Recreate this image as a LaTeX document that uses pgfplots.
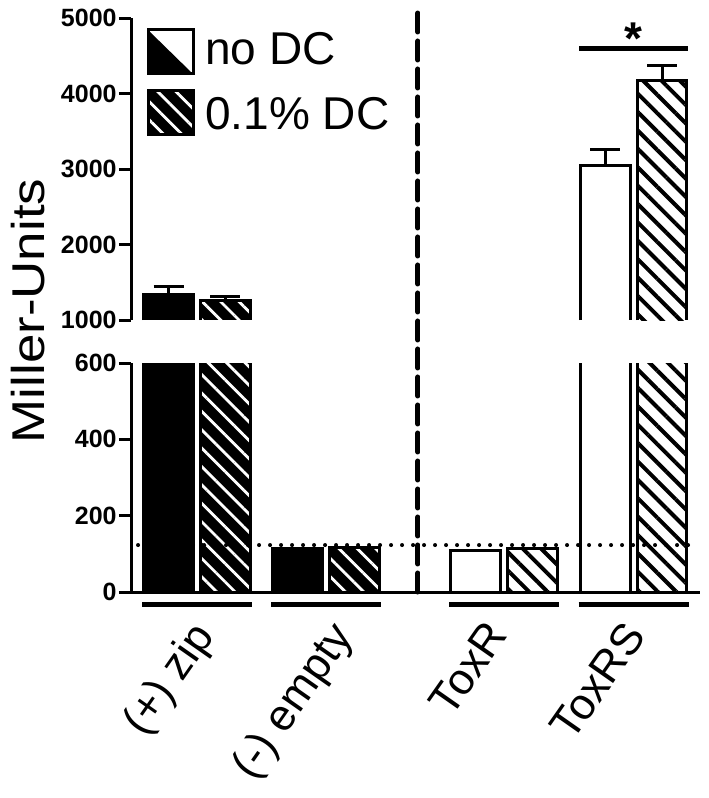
\documentclass[border=0pt]{standalone}
\usepackage{fontspec}
\setmainfont{Liberation Sans}
\newfontfamily\ylabfont[FakeStretch=1.15]{Liberation Sans}
\usepackage{pgfplots}
\pgfplotsset{compat=1.18}
\usetikzlibrary{patterns.meta,calc}

\tikzset{
  blk/.style={draw=black, fill=black, line width=1.5bp},
  wht/.style={draw=black, fill=white, line width=1.5bp},
  blkh/.style={preaction={fill=black}, pattern={Lines[angle=-45,distance=6.5bp,line width=1.4bp]}, pattern color=white, draw=black, line width=1.5bp},
  whth/.style={preaction={fill=white}, pattern={Lines[angle=-45,distance=6.5bp,line width=2bp]}, pattern color=black, draw=black, line width=1.5bp},
  blkF/.style={draw=none, fill=black},
  whtF/.style={draw=none, fill=white},
  blkhF/.style={draw=none, preaction={fill=black}, pattern={Lines[angle=-45,distance=6.5bp,line width=1.4bp]}, pattern color=white},
  whthF/.style={draw=none, preaction={fill=white}, pattern={Lines[angle=-45,distance=6.5bp,line width=2bp]}, pattern color=black},
  outl/.style={sharp plot, black, line width=1.5bp, line join=miter, mark=none},
}
\pgfplotsset{
  common/.style={
    scale only axis, width=284.5bp, xmin=0.4884, xmax=4.899,
    ybar, bar width=0.385,
    clip mode=individual,
    scaled y ticks=false,
    tick align=outside,
    major tick length=6bp,
    ytick style={line width=1.5bp, black},
    yticklabel style={font=\fontsize{12.5bp}{14bp}\selectfont\bfseries, inner sep=1bp},
    /pgf/number format/1000 sep={},
    /pgf/number format/assume math mode=true,
    error bars/error bar style={line width=1.5bp, black},
    error bars/error mark options={rotate=90, line width=1.5bp, black, mark size=7.5bp},
  },
}

\begin{document}
\begin{tikzpicture}
% ---------------- lower panel (0-600) ----------------
\begin{axis}[common, name=lower, height=114.5bp,
  ymin=0, ymax=600, ytick={0,200,400,600},
  axis x line*=bottom, axis y line*=left,
  axis line style={-, line width=1.5bp, black},
  xtick={1.015,2.093,3.302,4.37},
  xticklabels={(+) zip, (-) empty, ToxR, ToxRS},
  xtick style={draw=none},
  xticklabel style={xshift=-5bp, yshift=-7bp, rotate=55, anchor=north east, inner sep=0pt,
    font=\fontsize{22bp}{25bp}\selectfont},
]
\addplot[blk, bar shift=-0.22] coordinates {(1,1340) (2,115)};
\addplot[blkh, bar shift=0.22] coordinates {(1,1255) (2,117)};
\addplot[wht, bar shift=-0.22] coordinates {(3.38,108) (4.385,3040)};
\addplot[whth, bar shift=0.22] coordinates {(3.38,115) (4.385,4170)};
\addplot[sharp plot, black, line width=2bp, line cap=round, dash pattern=on 0bp off 5.5bp]
  coordinates {(0.543,123) (4.845,123)};
% group underlines
\draw[line width=2.5bp] (axis cs:0.574,-34) -- (axis cs:1.426,-34);
\draw[line width=2.5bp] (axis cs:1.574,-34) -- (axis cs:2.426,-34);
\draw[line width=2.5bp] (axis cs:2.954,-34) -- (axis cs:3.806,-34);
\draw[line width=2.5bp] (axis cs:3.959,-34) -- (axis cs:4.811,-34);
\coordinate (dl) at (axis cs:2.713,0);
\end{axis}

% ---------------- upper panel (1000-5000) ----------------
\begin{axis}[common, at={($(lower.north west)+(0,21.5bp)$)}, anchor=south west,
  height=151bp,
  ymin=1000, ymax=5000, ytick={1000,2000,3000,4000,5000},
  axis y line*=left, axis x line=none,
  axis line style={-, line width=1.5bp, black},
]
\addplot[blkF, bar shift=-0.22, error bars/.cd, y dir=plus, y explicit]
  coordinates {(1,1340) +- (0,110)};
\addplot[blkhF, bar shift=0.22, error bars/.cd, y dir=plus, y explicit]
  coordinates {(1,1255) +- (0,60)};
\addplot[whtF, bar shift=-0.22, error bars/.cd, y dir=plus, y explicit]
  coordinates {(4.385,3040) +- (0,220)};
\addplot[whthF, bar shift=0.22, error bars/.cd, y dir=plus, y explicit]
  coordinates {(4.385,4170) +- (0,205)};
% open-bottom outlines of the bars above the break
\addplot[outl] coordinates {(0.5875,1000) (0.5875,1340) (0.9725,1340) (0.9725,1000)};
\addplot[outl] coordinates {(1.0275,1000) (1.0275,1255) (1.4125,1255) (1.4125,1000)};
\addplot[outl] coordinates {(3.9725,1000) (3.9725,3040) (4.3575,3040) (4.3575,1000)};
\addplot[outl] coordinates {(4.4125,1000) (4.4125,4170) (4.7975,4170) (4.7975,1000)};
\draw[line width=2.5bp] (axis cs:3.961,4600) -- (axis cs:4.806,4600);
\node[anchor=north, inner sep=0pt, font=\fontsize{23bp}{26bp}\selectfont\bfseries] at (axis cs:4.38,4947) {*};
\coordinate (du) at (axis cs:2.713,5066);
\end{axis}

% dashed separator
\draw[line width=2.5bp, line cap=round, dash pattern=on 9.5bp off 4.5bp] (dl) -- (du);

\begin{scope}[shift={(lower.south west)}]
  % y label
  \node[rotate=90, inner sep=0pt, font=\ylabfont\fontsize{23bp}{26bp}\selectfont] at (-51.5bp,140.5bp) {Miller-Units};
  % legend
  \fill[white] (8.5bp,259bp) rectangle (31bp,281bp);
  \fill[black] (8.5bp,281bp) -- (31bp,259bp) -- (8.5bp,259bp) -- cycle;
  \draw[line width=1.5bp] (8.5bp,259bp) rectangle (31bp,281bp);
  \path[blkh] (8.5bp,228.5bp) rectangle (31bp,250.5bp);
  \node[anchor=base west, inner sep=0pt, font=\fontsize{23bp}{26bp}\selectfont] at (37bp,263.5bp) {no DC};
  \node[anchor=base west, inner sep=0pt, font=\fontsize{23bp}{26bp}\selectfont] at (37bp,231bp) {0.1\% DC};
  % frame
  \path (-65.5bp,-103bp) rectangle (289bp,296bp);
\end{scope}
\end{tikzpicture}
\end{document}
